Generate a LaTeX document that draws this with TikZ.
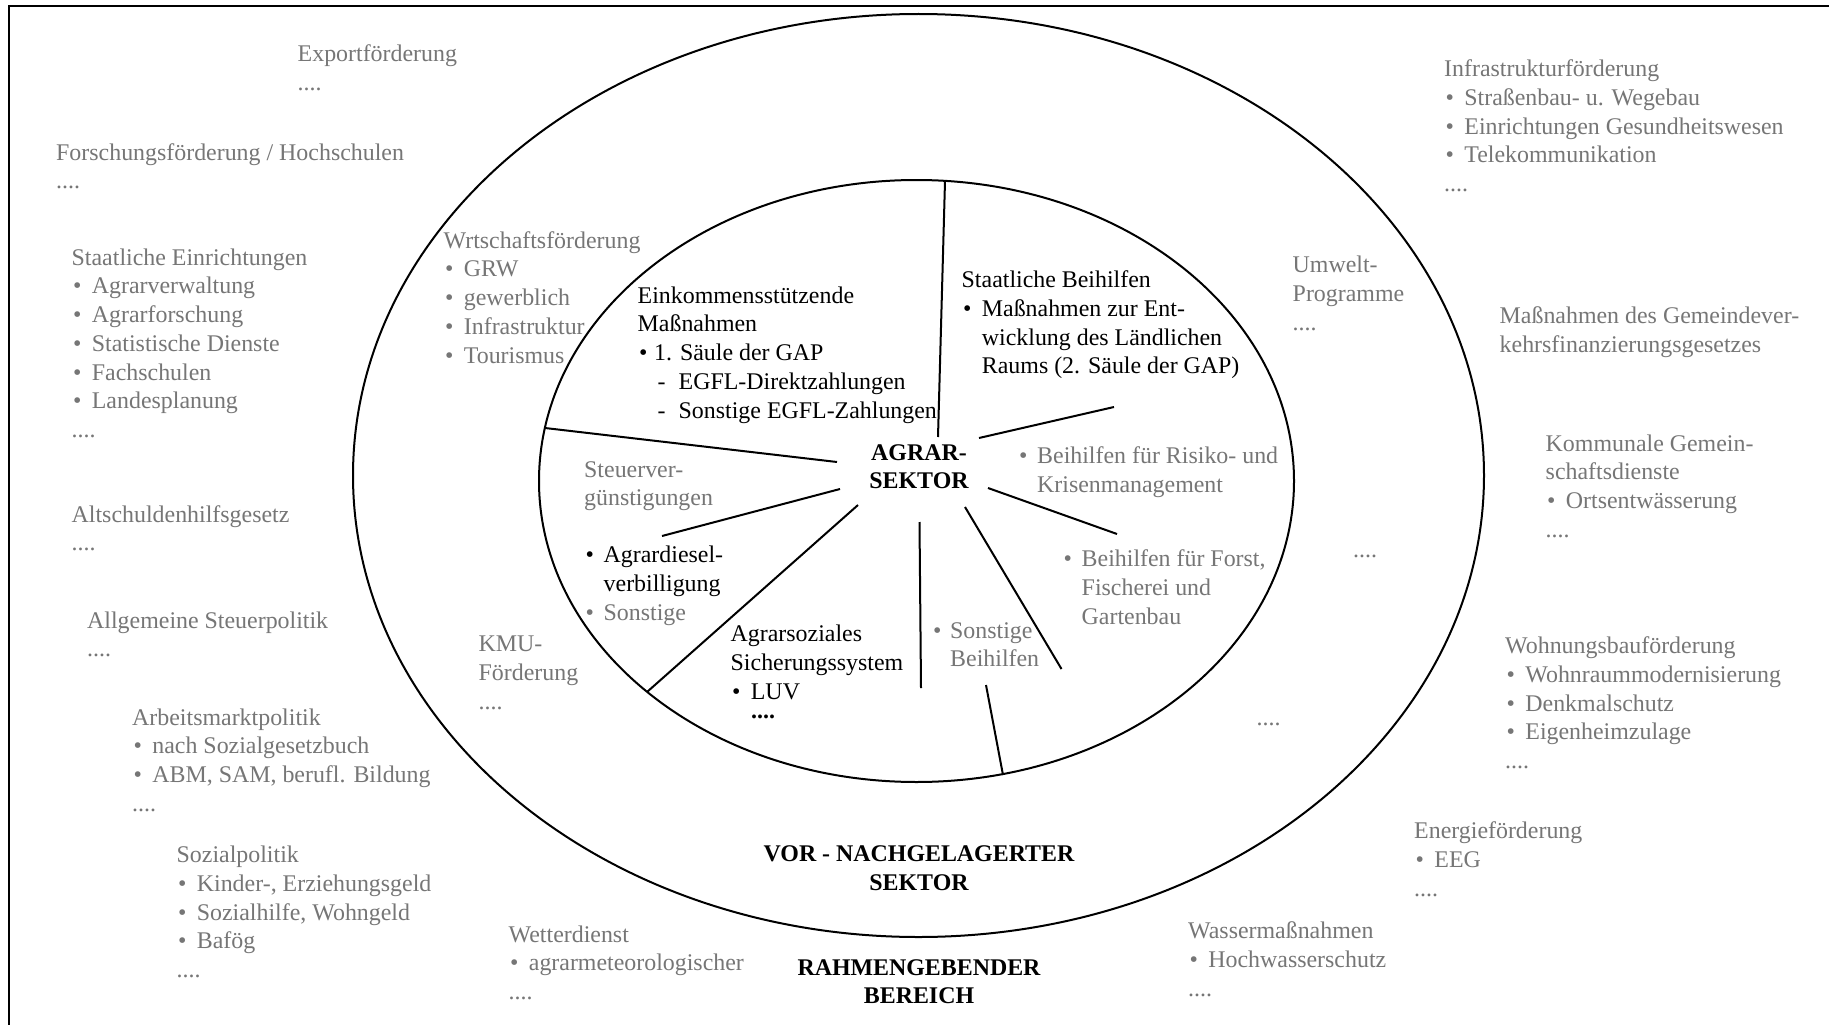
\documentclass[tikz,border=0pt]{standalone}
\usepackage{fontspec}
\setmainfont{Liberation Serif}
\definecolor{tgray}{RGB}{118,118,118}
\newcommand\fs{\fontsize{23.9pt}{28.7pt}\selectfont}
\newcommand\st{\rule{0pt}{20pt}}
\newcommand\bu{\hspace*{1.5pt}\makebox[18.7pt][l]{•}}
\newcommand\bb{\makebox[18pt][l]{•}}
\newcommand\ind{\hspace*{18pt}}
\tikzset{
  gtxt/.style={anchor=north west, inner sep=0pt, align=left, text=tgray, font=\fs},
  ktxt/.style={gtxt, text=black},
  btxt/.style={anchor=north, inner sep=0pt, align=center, text=black, font=\fs\bfseries},
  ring/.style={line width=2pt},
  spoke/.style={line width=2pt},
  frameline/.style={line width=2.5pt},
}
\begin{document}
\begin{tikzpicture}[x=1pt,y=-1pt]
\useasboundingbox (0,0) rectangle (1829,1025);
\fill[white] (0,0) rectangle (1829,1025);
% frame
\coordinate (fb) at (9,1026);
\coordinate (fc) at (9,6);
\coordinate (fr) at (1830,6);
\draw[frameline] (fb) -- (fc) -- (fr);
% ellipses
\coordinate (oc) at (918.5,475.5);
\coordinate (ic) at (916.5,481);
\draw[ring] (oc) ellipse [x radius=565.5pt, y radius=461.5pt];
\draw[ring] (ic) ellipse [x radius=377.5pt, y radius=301pt];
% spokes
\coordinate (s1a) at (945,181);   \coordinate (s1b) at (938,437);
\coordinate (s2a) at (545,428);   \coordinate (s2b) at (837,462);
\coordinate (s3a) at (1114,407);  \coordinate (s3b) at (979,438);
\coordinate (s4a) at (840,489);   \coordinate (s4b) at (662,536);
\coordinate (s5a) at (858,505);   \coordinate (s5b) at (647,692);
\coordinate (s6a) at (919.5,522); \coordinate (s6b) at (921,688);
\coordinate (s7a) at (965,507);   \coordinate (s7b) at (1061.5,669);
\coordinate (s8a) at (988,488);   \coordinate (s8b) at (1117,534);
\coordinate (s9a) at (986,685);   \coordinate (s9b) at (1003,775);
\foreach \i in {1,...,9} {\draw[spoke] (s\i a) -- (s\i b);}
% left column
\node[gtxt] (export) at (297.5,41.5) {\st Exportförderung\\....};
\node[gtxt] (forsch) at (56,140) {\st Forschungsförderung / Hochschulen\\....};
\node[gtxt] (staat) at (71.5,245) {\st Staatliche Einrichtungen\\\bu Agrarverwaltung\\\bu Agrarforschung\\\bu Statistische Dienste\\\bu Fachschulen\\\bu Landesplanung\\....};
\node[gtxt] (altsch) at (71.5,502) {\st Altschuldenhilfsgesetz\\....};
\node[gtxt] (allg) at (87,608) {\st Allgemeine Steuerpolitik\\....};
\node[gtxt] (arbeit) at (132,705) {\st Arbeitsmarktpolitik\\\bu nach Sozialgesetzbuch\\\bu ABM, SAM, berufl. Bildung\\....};
\node[gtxt] (sozial) at (176.5,842.5) {\st Sozialpolitik\\\bu Kinder-, Erziehungsgeld\\\bu Sozialhilfe, Wohngeld\\\bu Bafög\\....};
% ring
\node[gtxt] (wirt) at (443.5,228) {\st Wrtschaftsförderung\\\bu GRW\\\bu gewerblich\\\bu Infrastruktur\\\bu Tourismus};
\node[gtxt] (kmu) at (478.5,631.5) {\st KMU-\\Förderung\\....};
\node[gtxt] (umwelt) at (1292.5,252.5) {\st Umwelt-\\Programme\\....};
\node[gtxt] (dotsa) at (1353,537) {\st ....};
\node[gtxt] (dotsb) at (1256.5,705) {\st ....};
% bottom
\node[gtxt] (wetter) at (508.5,922) {\st Wetterdienst\\\bu agrarmeteorologischer\\....};
\node[gtxt] (wasser) at (1188,918.5) {\st Wassermaßnahmen\\\bu Hochwasserschutz\\....};
% right column
\node[gtxt] (infra) at (1444,56.5) {\st Infrastrukturförderung\\\bu Straßenbau- u. Wegebau\\\bu Einrichtungen Gesundheitswesen\\\bu Telekommunikation\\....};
\node[gtxt] (gvfg) at (1499.5,303.5) {\st Maßnahmen des Gemeindever-\\kehrsfinanzierungsgesetzes};
\node[gtxt] (komm) at (1545.5,431) {\st Kommunale Gemein-\\schaftsdienste\\\bu Ortsentwässerung\\....};
\node[gtxt] (wohn) at (1505,633.5) {\st Wohnungsbauförderung\\\bu Wohnraummodernisierung\\\bu Denkmalschutz\\\bu Eigenheimzulage\\....};
\node[gtxt] (energie) at (1414,818.5) {\st Energieförderung\\\bu EEG\\....};
% inner sectors
\node[ktxt] (einkommen) at (637.5,283) {\st Einkommensstützende\\Maßnahmen\\\hspace*{1.5pt}\makebox[15pt][l]{•}1. Säule der GAP\\\hspace*{20pt}\makebox[21pt][l]{-}EGFL-Direktzahlungen\\\hspace*{20pt}\makebox[21pt][l]{-}Sonstige EGFL-Zahlungen};
\node[ktxt] (beihilfen) at (961.5,267.5) {\st Staatliche Beihilfen\\\bu Maßnahmen zur Ent-\\\hspace*{20.2pt}wicklung des Ländlichen\\\hspace*{20.2pt}Raums (2. Säule der GAP)};
\node[btxt] (agrar) at (919,440) {\st AGRAR-\\SEKTOR};
\node[gtxt] (risiko) at (1019,443.5) {\st\bb Beihilfen für Risiko- und\\\ind Krisenmanagement};
\node[gtxt] (steuer) at (584,457) {\st Steuerver-\\günstigungen};
\node[ktxt] (diesel) at (585.5,542.5) {\st\bb Agrardiesel-\\\ind verbilligung\\{\color{tgray}\bb Sonstige}};
\node[ktxt] (sozsys) at (730.5,621.5) {\st Agrarsoziales\\Sicherungssystem\\\bu LUV};
\node[anchor=base west, inner sep=0pt, font=\fs\bfseries] (luvdots) at (751,718) {....};
\node[gtxt] (sonstb) at (933,618) {\st\makebox[17pt][l]{•}Sonstige\\\hspace*{17pt}Beihilfen};
\node[gtxt] (forst) at (1063.5,546.5) {\st\bb Beihilfen für Forst,\\\ind Fischerei und\\\ind Gartenbau};
% sector labels
\node[btxt] (vor) at (919,841.5) {\st VOR - NACHGELAGERTER\\SEKTOR};
\node[btxt] (rahmen) at (919,955) {\st RAHMENGEBENDER\\BEREICH};
\end{tikzpicture}
\end{document}
